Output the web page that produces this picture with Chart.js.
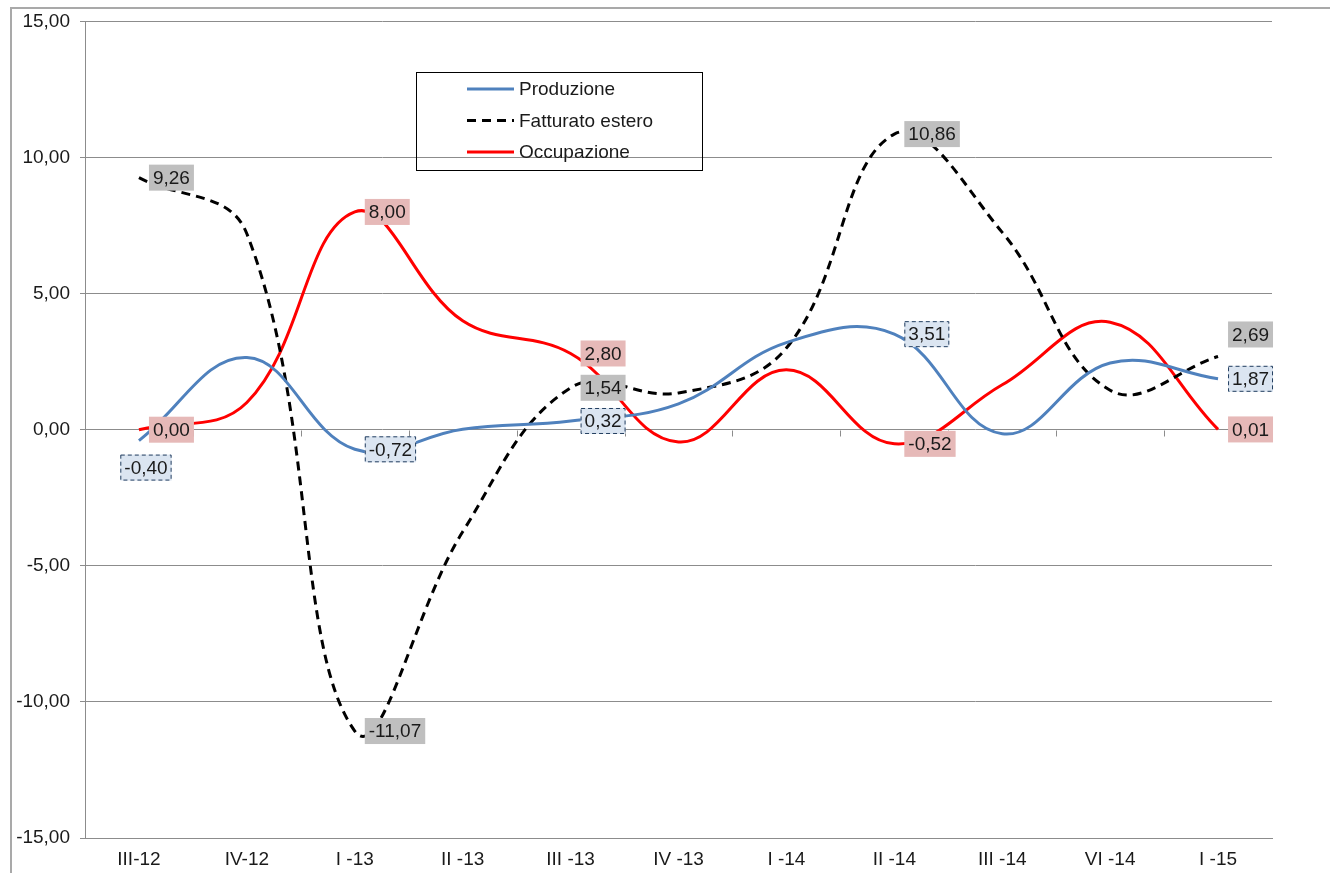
<!DOCTYPE html>
<html>
<head>
<meta charset="utf-8">
<script src="https://cdn.jsdelivr.net/npm/chart.js@4"></script>
<style>
  html, body { margin: 0; padding: 0; background: #fff; }
  #wrap { position: relative; width: 1330px; height: 873px; }
  #frame { position: absolute; left: 10px; top: 7px; right: -5px; bottom: -5px;
    border-left: 2px solid #a9a9a9; border-top: 2px solid #a9a9a9; pointer-events: none; }
</style>
</head>
<body>
<div id="wrap">
  <canvas id="chart" width="1330" height="873"></canvas>
  <div id="frame"></div>
</div>
<script>
const labels = ["III-12", "IV-12", "I -13", "II -13", "III -13", "IV -13", "I -14", "II -14", "III -14", "VI -14", "I -15"];
const produzione = [-0.40, 2.65, -0.72, 0.02, 0.32, 0.95, 3.20, 3.51, -0.15, 2.45, 1.87];
const fatturatoEstero = [9.26, 7.20, -11.07, -3.75, 1.54, 1.35, 3.00, 10.86, 7.25, 1.45, 2.69];
const occupazione = [0.00, 1.00, 8.00, 4.00, 2.80, -0.45, 2.20, -0.52, 1.65, 3.95, 0.01];
const yTicks = [-15, -10, -5, 0, 5, 10, 15];

// which points carry a value label, per dataset index
const labelled = {
  0: [0, 2, 4, 7, 10],
  1: [0, 2, 4, 7, 10],
  2: [0, 2, 4, 7, 10],
};

const FONT = "'Liberation Sans', Arial, sans-serif";
const FSIZE = 19;
const fmt = (v) => v.toFixed(2).replace(".", ",");

const labelStyle = [
  { fill: "#dbe5f1", border: "#243f60", dashed: true },
  { fill: "#bfbfbf", border: null },
  { fill: "#e6b9b8", border: null },
];

function labelPlace(ds, i, pt, w, h) {
  // default: right of the point, vertically centred
  let x = pt.x + 10, y = pt.y - h / 2;
  if (ds === 0 && i === 0) { x = pt.x + 7 - w / 2; y = pt.y + 14; }
  if (ds === 1 && i === 10) { y = pt.y - 22 - h / 2; }
  return { x, y };
}

const dataLabels = {
  id: "dataLabels",
  afterDatasetsDraw(chart) {
    const ctx = chart.ctx;
    ctx.save();
    ctx.font = FSIZE + "px " + FONT;
    ctx.textBaseline = "middle";
    ctx.textAlign = "left";
    chart.data.datasets.forEach((d, ds) => {
      const meta = chart.getDatasetMeta(ds);
      (labelled[ds] || []).forEach((i) => {
        const pt = meta.data[i];
        const txt = fmt(d.data[i]);
        const w = ctx.measureText(txt).width + 8;
        const h = 26;
        const p = labelPlace(ds, i, pt, w, h);
        const st = labelStyle[ds];
        ctx.fillStyle = st.fill;
        ctx.fillRect(p.x, p.y, w, h);
        if (st.border) {
          ctx.strokeStyle = st.border;
          ctx.lineWidth = 1;
          ctx.setLineDash(st.dashed ? [4, 3] : []);
          ctx.strokeRect(p.x + 0.5, p.y + 0.5, w - 1, h - 1);
          ctx.setLineDash([]);
        }
        ctx.fillStyle = "#1a1a1a";
        ctx.fillText(txt, p.x + 4, p.y + h / 2 + 1);
      });
    });
    ctx.restore();
  },
};

// zero axis tick marks (Excel horizontal axis crosses at 0)
const zeroAxis = {
  id: "zeroAxis",
  beforeDatasetsDraw(chart) {
    const ctx = chart.ctx;
    const xs = chart.scales.x, ys = chart.scales.y;
    const y0 = Math.round(ys.getPixelForValue(0)) + 0.5;
    ctx.save();
    ctx.strokeStyle = "#8c8c8c";
    ctx.lineWidth = 1;
    ctx.beginPath();
    const step = (xs.right - xs.left) / labels.length;
    for (let k = 0; k <= labels.length; k++) {
      const x = Math.round(xs.left + k * step) + 0.5;
      ctx.moveTo(x, y0);
      ctx.lineTo(x, y0 + 6);
    }
    ctx.stroke();
    ctx.restore();
  },
};

const boxLegend = {
  id: "boxLegend",
  afterDraw(chart) {
    const ctx = chart.ctx;
    ctx.save();
    ctx.strokeStyle = "#000";
    ctx.lineWidth = 1;
    ctx.strokeRect(416.5, 72.5, 286, 98);
    ctx.font = FSIZE + "px " + FONT;
    ctx.textBaseline = "middle";
    ctx.textAlign = "left";
    chart.data.datasets.forEach((d, k) => {
      const y = 89 + k * 31.5;
      ctx.strokeStyle = d.borderColor;
      ctx.lineWidth = 3;
      ctx.setLineDash(d.borderDash || []);
      ctx.beginPath();
      ctx.moveTo(467, y);
      ctx.lineTo(514, y);
      ctx.stroke();
      ctx.setLineDash([]);
      ctx.fillStyle = "#1a1a1a";
      ctx.fillText(d.label, 519, y + 1);
    });
    ctx.restore();
  },
};

new Chart(document.getElementById("chart"), {
  type: "line",
  data: {
    labels,
    datasets: [
      { label: "Produzione", data: produzione, borderColor: "#4f81bd", borderWidth: 3, pointRadius: 0, tension: 0.4 },
      { label: "Fatturato estero", data: fatturatoEstero, borderColor: "#000000", borderWidth: 3, borderDash: [9, 6], pointRadius: 0, tension: 0.4 },
      { label: "Occupazione", data: occupazione, borderColor: "#ff0000", borderWidth: 3, pointRadius: 0, tension: 0.4 },
    ],
  },
  options: {
    responsive: false,
    animation: false,
    layout: { padding: { left: 0, top: 19, right: 58, bottom: 0 } },
    plugins: { legend: { display: false }, tooltip: { enabled: false } },
    scales: {
      x: {
        offset: true,
        grid: { display: false, drawTicks: false },
        border: { display: true, color: "#8c8c8c", width: 1 },
        ticks: { color: "#1a1a1a", font: { family: FONT, size: FSIZE }, padding: 10, maxRotation: 0, autoSkip: false },
        afterFit: (s) => { s.height = 35; },
      },
      y: {
        min: -15,
        max: 15,
        afterBuildTicks: (s) => { s.ticks = yTicks.map((v) => ({ value: v })); },
        grid: { color: "#8c8c8c", lineWidth: 1, tickLength: 5 },
        border: { display: true, color: "#8c8c8c", width: 1 },
        ticks: { color: "#1a1a1a", font: { family: FONT, size: FSIZE }, padding: 10, callback: (v) => fmt(v) },
        afterFit: (s) => { s.width = 85; },
      },
    },
  },
  plugins: [zeroAxis, dataLabels, boxLegend],
});
</script>
</body>
</html>
